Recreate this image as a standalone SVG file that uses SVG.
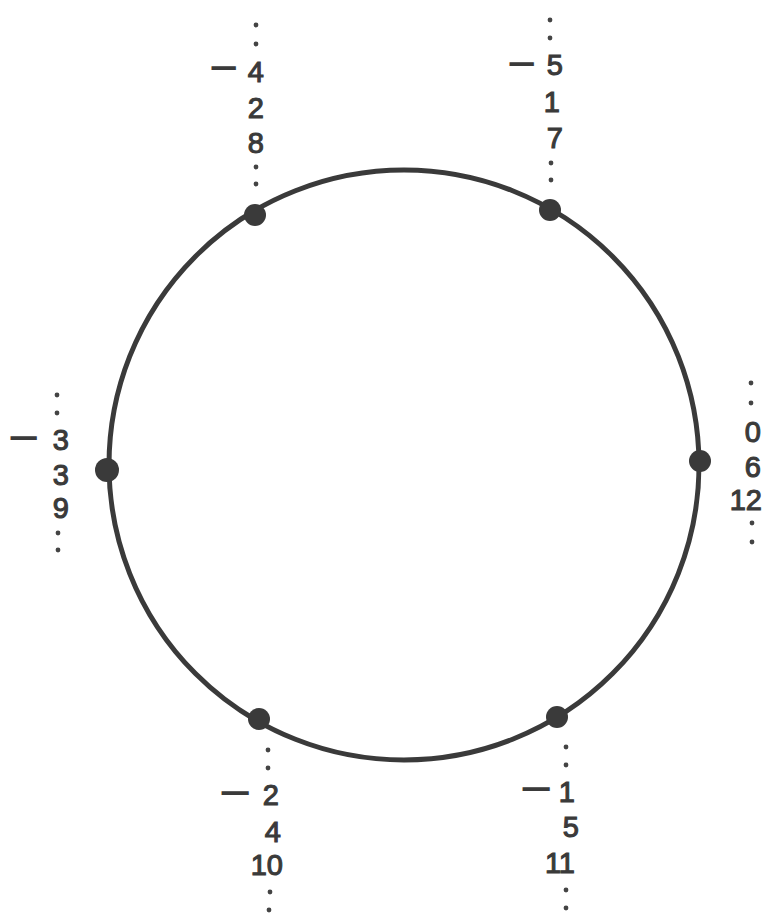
<svg xmlns="http://www.w3.org/2000/svg" width="765" height="915" viewBox="0 0 765 915">
<style>
.ring{fill:none;stroke:#3a3a3a;stroke-width:5}
.node{fill:#3a3a3a}
.dot{fill:#444}
.lbl{font-family:"Liberation Sans",Arial,sans-serif;font-size:29px;fill:#3a3a3a;stroke:#3a3a3a;stroke-width:1.1;text-anchor:end}
.mn{stroke-width:1.8}
</style>
<rect width="765" height="915" fill="#fff"/>
<g id="ring"><circle class="ring" cx="404" cy="465" r="295"/></g>
<g id="connectors">
<g class="dot">
<circle cx="256" cy="25" r="2.4"/><circle cx="256" cy="44" r="2.4"/><circle cx="256" cy="167" r="2.4"/><circle cx="256" cy="184" r="2.4"/>
<circle cx="550" cy="20" r="2.4"/><circle cx="550" cy="38" r="2.4"/><circle cx="551" cy="163" r="2.4"/><circle cx="551" cy="180" r="2.4"/>
<circle cx="57" cy="395" r="2.4"/><circle cx="57" cy="413" r="2.4"/><circle cx="58" cy="533" r="2.4"/><circle cx="58" cy="550" r="2.4"/>
<circle cx="751" cy="383" r="2.4"/><circle cx="751" cy="403" r="2.4"/><circle cx="752" cy="523" r="2.4"/><circle cx="752" cy="542" r="2.4"/>
<circle cx="268" cy="750" r="2.4"/><circle cx="268" cy="768" r="2.4"/><circle cx="270" cy="892" r="2.4"/><circle cx="269" cy="910" r="2.4"/>
<circle cx="566" cy="747" r="2.4"/><circle cx="566" cy="765" r="2.4"/><circle cx="566" cy="890" r="2.4"/><circle cx="566" cy="908" r="2.4"/>
</g>
</g>
<g id="n-top-left">
<circle class="node" cx="255" cy="215" r="11"/>
<text class="lbl" y="82"><tspan class="mn" x="211" dy="-4" textLength="26" lengthAdjust="spacingAndGlyphs" text-anchor="start">−</tspan><tspan x="264" dy="4">4</tspan></text>
<text class="lbl" x="264" y="118">2</text>
<text class="lbl" x="264" y="153">8</text>
</g>
<g id="n-top-right">
<circle class="node" cx="550" cy="210" r="11"/>
<text class="lbl" y="75"><tspan class="mn" x="509" dy="-1" textLength="26" lengthAdjust="spacingAndGlyphs" text-anchor="start">−</tspan><tspan x="563" dy="1">5</tspan></text>
<text class="lbl" x="560" y="112">1</text>
<text class="lbl" x="563" y="148">7</text>
</g>
<g id="n-left">
<circle class="node" cx="107" cy="470" r="12"/>
<text class="lbl" y="450"><tspan class="mn" x="10" dy="-2" textLength="28" lengthAdjust="spacingAndGlyphs" text-anchor="start">−</tspan><tspan x="69" dy="2">3</tspan></text>
<text class="lbl" x="69" y="485">3</text>
<text class="lbl" x="69" y="518">9</text>
</g>
<g id="n-right">
<circle class="node" cx="700" cy="461" r="11"/>
<text class="lbl" x="761" y="442">0</text>
<text class="lbl" x="761" y="477">6</text>
<text class="lbl" x="762" y="510">12</text>
</g>
<g id="n-bottom-left">
<circle class="node" cx="259" cy="719" r="11"/>
<text class="lbl" y="805"><tspan class="mn" x="221" dy="-2" textLength="29" lengthAdjust="spacingAndGlyphs" text-anchor="start">−</tspan><tspan x="279" dy="2">2</tspan></text>
<text class="lbl" x="281" y="842">4</text>
<text class="lbl" x="283" y="875">10</text>
</g>
<g id="n-bottom-right">
<circle class="node" cx="557" cy="717" r="11"/>
<text class="lbl" y="802"><tspan class="mn" x="522" dy="-3" textLength="29" lengthAdjust="spacingAndGlyphs" text-anchor="start">−</tspan><tspan x="575" dy="3">1</tspan></text>
<text class="lbl" x="579" y="837">5</text>
<text class="lbl" x="575" y="873">11</text>
</g>
</svg>
